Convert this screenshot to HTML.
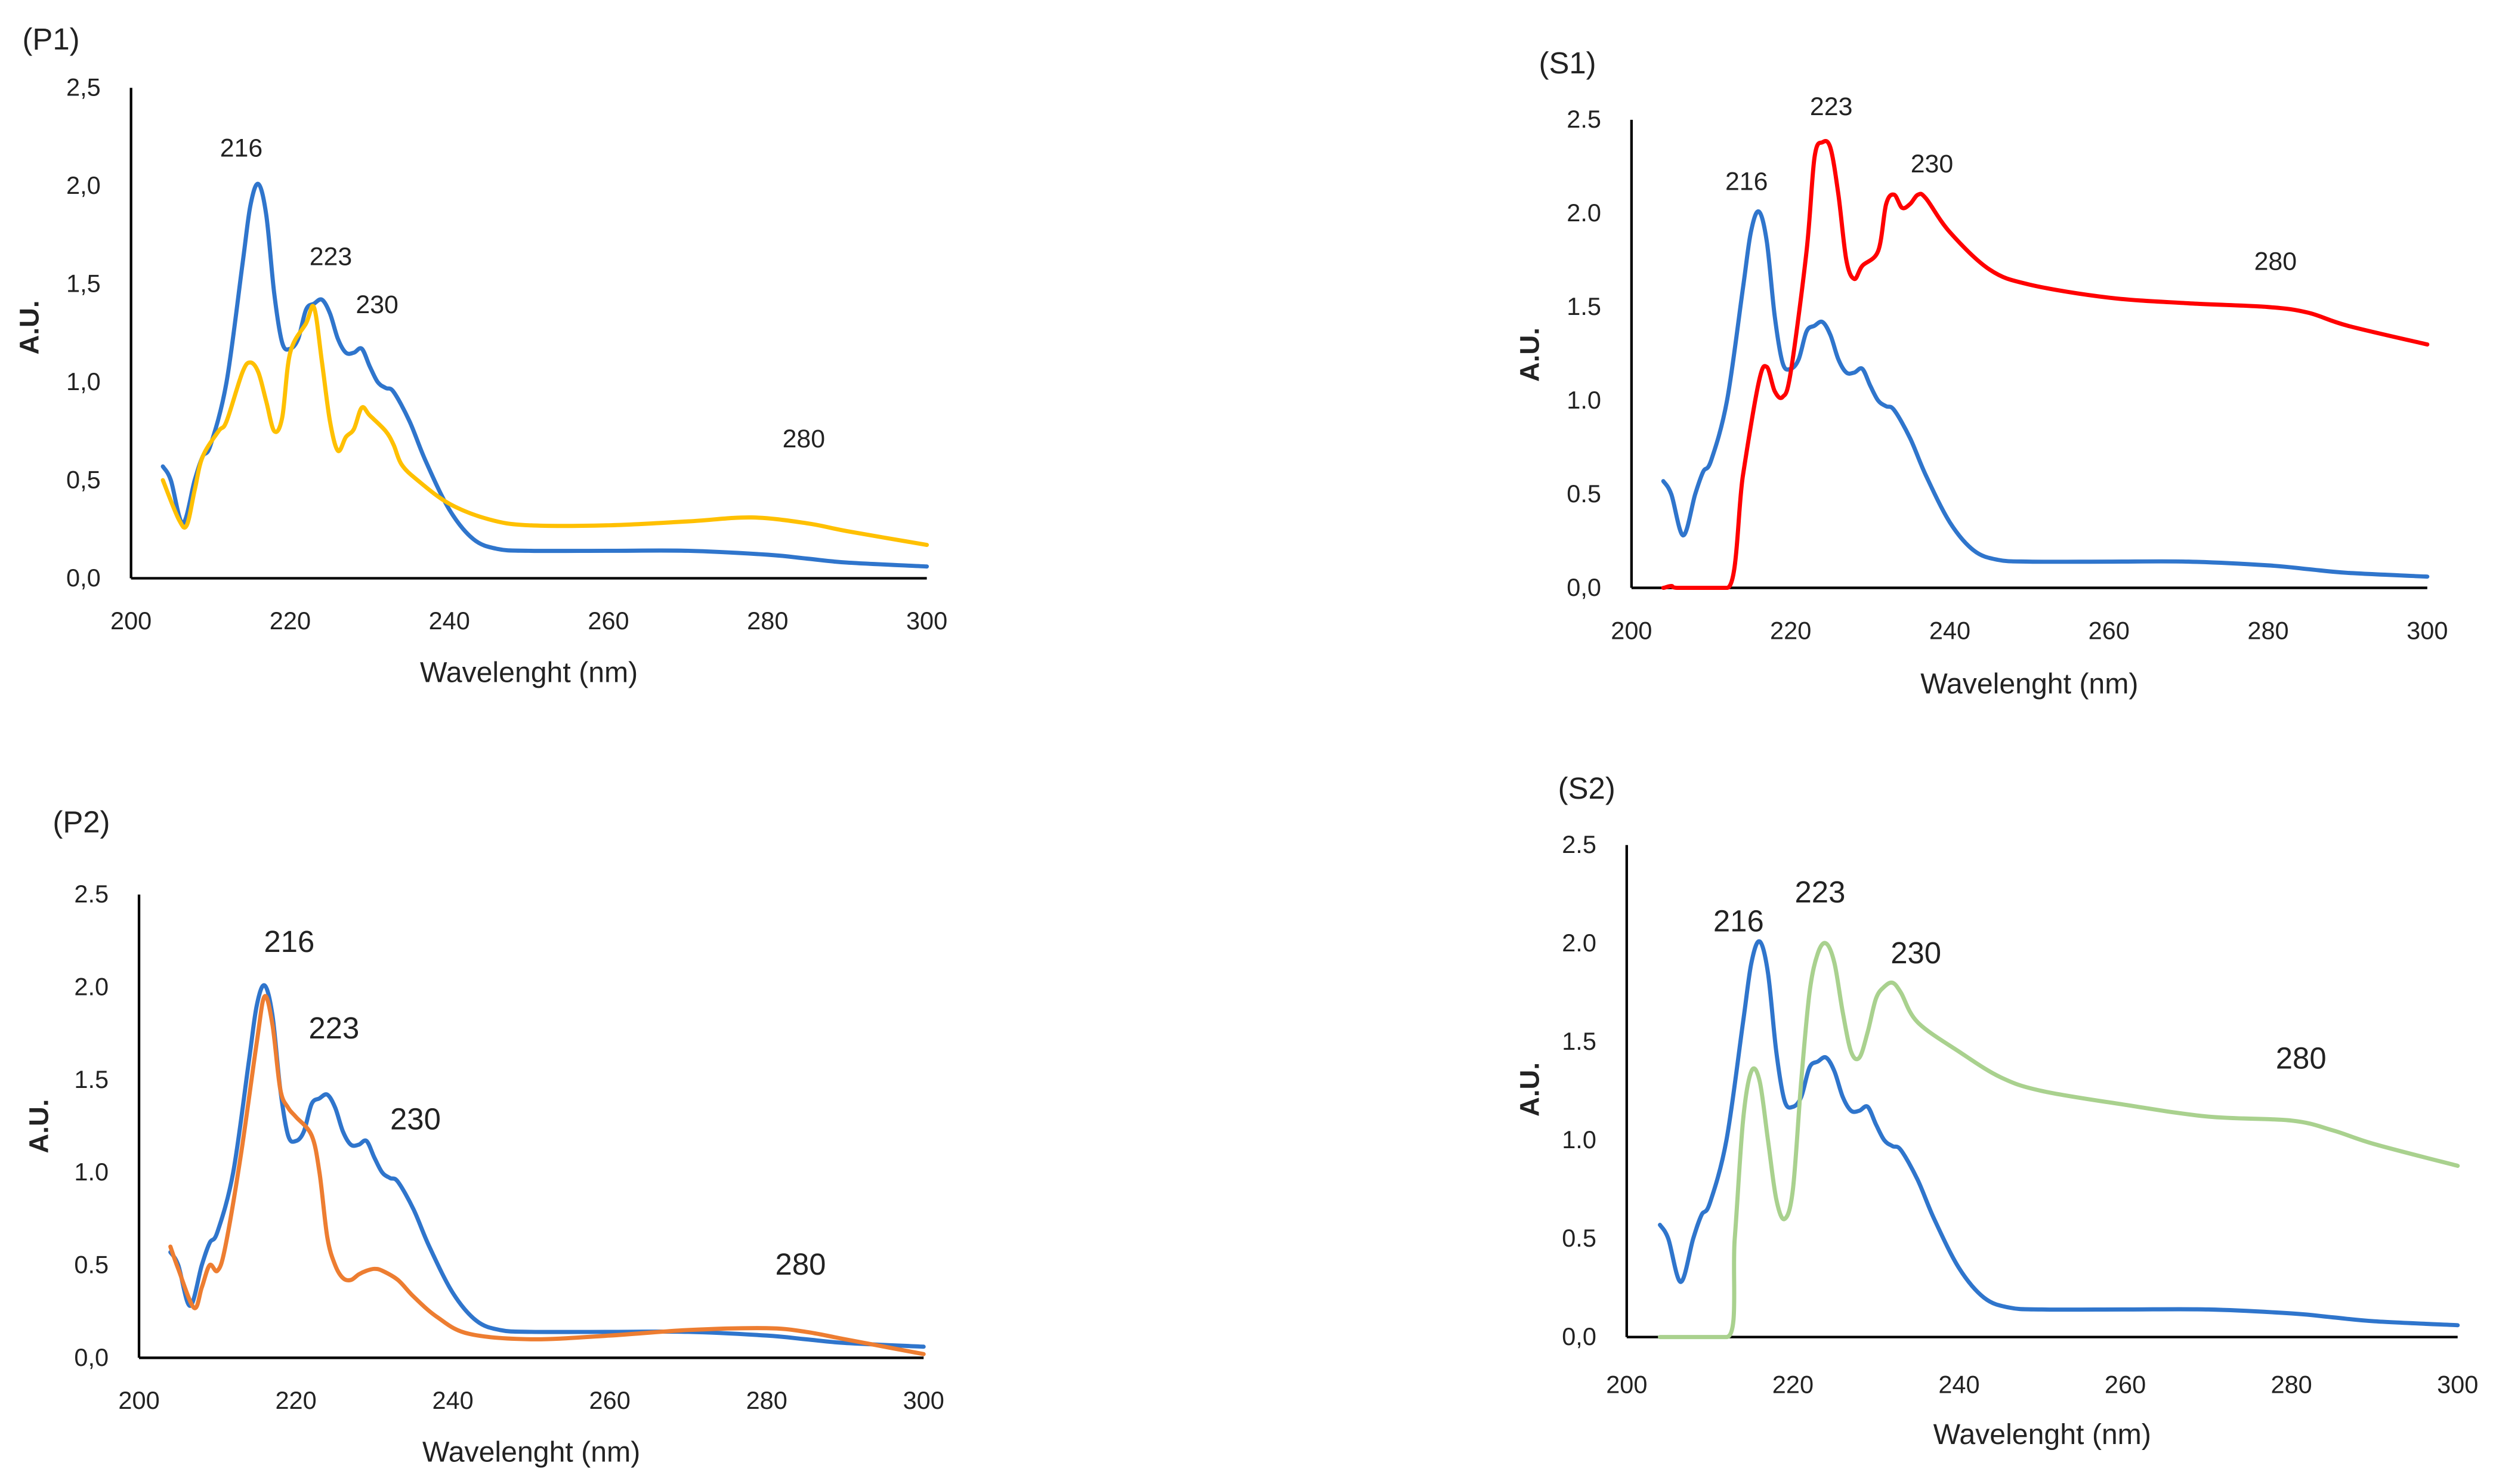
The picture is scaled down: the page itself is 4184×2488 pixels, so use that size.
<!DOCTYPE html>
<html><head><meta charset="utf-8">
<style>
html,body{margin:0;padding:0;background:#fff;}
svg{display:block;}
text{font-family:"Liberation Sans",sans-serif;fill:#222;}
</style></head>
<body>
<svg id="fig" width="4184" height="2488" viewBox="0 0 1562 929" preserveAspectRatio="none" xmlns="http://www.w3.org/2000/svg"></svg>
<script>
const xTicks=[200,220,240,260,280,300];
const yTicks=[0,0.5,1.0,1.5,2.0,2.5];
const yTickLabels=["0,0","0,5","1,0","1,5","2,0","2,5"];
const yTickLabelsS1=["0,0","0.5","1.0","1.5","2.0","2.5"];
const blueX=[204,205,206.5,208,209,210,212,214,215,216,217,218,219,220,221,222,223,224,225,226,227,228,229,230,231,232,233,235,237,240,243,246,250,260,270,280,285,290,300];
const blueY=[0.57,0.5,0.28,0.5,0.62,0.68,1.0,1.6,1.9,2.01,1.85,1.45,1.2,1.17,1.22,1.37,1.4,1.42,1.35,1.22,1.15,1.15,1.17,1.08,1.0,0.97,0.95,0.8,0.6,0.35,0.2,0.15,0.14,0.14,0.14,0.12,0.1,0.08,0.06];
const yellowX=[204,206,207,208,209,211,212,214,215,216,217,218,219,220,222,223,224,225,226,227,228,229,230,232,233,234,236,240,245,250,260,270,278,285,290,300];
const yellowY=[0.5,0.3,0.27,0.45,0.62,0.75,0.8,1.05,1.1,1.05,0.9,0.75,0.82,1.15,1.3,1.38,1.1,0.8,0.65,0.72,0.76,0.87,0.83,0.75,0.68,0.58,0.5,0.38,0.3,0.27,0.27,0.29,0.31,0.28,0.24,0.17];
const redX=[204,205,206,212,214,216,217,218,219,220,222,223,224,225,226,227,228,229,231,232,233,234,235,236,237,240,245,250,260,270,280,285,290,300];
const redY=[0,0.01,0,0,0.6,1.1,1.18,1.05,1.02,1.15,1.8,2.3,2.38,2.35,2.1,1.75,1.65,1.72,1.8,2.05,2.1,2.03,2.05,2.1,2.08,1.9,1.7,1.62,1.55,1.52,1.5,1.47,1.4,1.3];
const orangeX=[204,205,207,208,209,210,211,213,215,216,217,218,219,220,222,223,224,225,226,227,228,229,230,231,233,235,238,242,250,260,270,280,285,290,300];
const orangeY=[0.6,0.48,0.27,0.38,0.5,0.47,0.6,1.1,1.7,1.95,1.8,1.45,1.35,1.3,1.2,1.0,0.65,0.5,0.43,0.42,0.45,0.47,0.48,0.47,0.42,0.33,0.22,0.13,0.1,0.12,0.15,0.16,0.14,0.1,0.02];
const greenX=[204,212,213,214,215,216,217,218,219,220,221,222,223,224,225,226,227,228,229,230,231,232,233,235,240,245,250,260,270,280,285,290,300];
const greenY=[0,0,0.5,1.1,1.35,1.3,1.0,0.7,0.6,0.75,1.3,1.75,1.95,2.0,1.9,1.65,1.45,1.42,1.55,1.72,1.78,1.8,1.75,1.6,1.45,1.32,1.25,1.18,1.12,1.1,1.05,0.98,0.87];

const NS="http://www.w3.org/2000/svg";
const svg=document.getElementById('fig');
function el(tag,attrs,parent){const e=document.createElementNS(NS,tag);for(const k in attrs)e.setAttribute(k,attrs[k]);(parent||svg).appendChild(e);return e;}
function txt(s,x,y,size,parent,anchor,extra){const t=el('text',Object.assign({x:x,y:y,'font-size':size,'text-anchor':anchor||'middle'},extra||{}),parent);t.textContent=s;return t;}

function smoothPath(pts,base){
  const cl=v=>Math.min(v,base);
  let d='M'+pts[0][0].toFixed(2)+','+pts[0][1].toFixed(2);
  for(let i=0;i<pts.length-1;i++){
    const p0=pts[Math.max(0,i-1)],p1=pts[i],p2=pts[i+1],p3=pts[Math.min(pts.length-1,i+2)];
    let c1x=p1[0]+(p2[0]-p0[0])/6,c1y=p1[1]+(p2[1]-p0[1])/6;
    let c2x=p2[0]-(p3[0]-p1[0])/6,c2y=p2[1]-(p3[1]-p1[1])/6;
    if(p1[1]>=base-0.5||p2[1]>=base-0.5){ if(p1[1]>=base-0.5)c1y=p1[1]; if(p2[1]>=base-0.5)c2y=p2[1]; }
    d+=' C'+c1x.toFixed(2)+','+cl(c1y).toFixed(2)+' '+c2x.toFixed(2)+','+cl(c2y).toFixed(2)+' '+p2[0].toFixed(2)+','+p2[1].toFixed(2);
  }
  return d;
}

function panel(cfg){
  const g=el('g',{});
  
  
  const sx=v=>cfg.x0+(v-200)/100*(cfg.x1-cfg.x0);
  const sy=v=>cfg.y0-(v/2.5)*(cfg.y0-cfg.yTop);
  const lbl=txt(cfg.label,cfg.labX,cfg.labY,19,g,'start');
  
  
  const ya=el('line',{x1:cfg.x0,y1:cfg.yTop,x2:cfg.x0,y2:cfg.y0,stroke:'#000','stroke-width':1.6},g);
  
  
  const xa=el('line',{x1:cfg.x0,y1:cfg.y0,x2:cfg.x1,y2:cfg.y0,stroke:'#000','stroke-width':1.6},g);
  
  
  yTicks.forEach((v,i)=>{
    const t=txt(cfg.yLabels[i],cfg.x0-19,sy(v)+5,15.5,g,'end',{fill:'#555'});
    
    
  });
  xTicks.forEach(v=>{
    const t=txt(String(v),sx(v),cfg.tickY,15.5,g,'middle',{fill:'#555'});
    
    
  });
  const xt=txt('Wavelenght (nm)',(cfg.x0+cfg.x1)/2,cfg.titleY,18,g,'middle',{fill:'#333'});
  
  
  const yt=txt('A.U.',cfg.auX,cfg.auY,17,g,'middle',{'font-weight':'bold',transform:'rotate(-90 '+cfg.auX+' '+cfg.auY+')',fill:'#222'});
  
  
  cfg.series.forEach(s=>{
    const pts=s.xs.map((x,i)=>[sx(x),sy(s.ys[i])]);
    const p=el('path',{d:smoothPath(pts,cfg.y0),fill:'none',stroke:s.color,'stroke-width':2.6,'stroke-linejoin':'round','stroke-linecap':'round'},g);
    
    
  });
  cfg.peaks.forEach(pk=>{
    const t=txt(pk[0],pk[1],pk[2],cfg.peakSize,g,'middle');
    
    
  });
}

panel({name:'panel-p1',label:'(P1)',labX:14,labY:31,x0:82,x1:580,yTop:55,y0:362,tickY:394,titleY:427,auX:24,auY:205,yLabels:yTickLabels,peakSize:16,
  series:[{name:'series-reference-blue',xs:blueX,ys:blueY,color:'#2f75cc'},{name:'series-p1-yellow',xs:yellowX,ys:yellowY,color:'#ffc000'}],
  peaks:[['216',151,98],['223',207,166],['230',236,196],['280',503,280]]});
panel({name:'panel-s1',label:'(S1)',labX:963,labY:46,x0:1021,x1:1519,yTop:75,y0:368,tickY:400,titleY:434,auX:963,auY:222,yLabels:yTickLabelsS1,peakSize:16,
  series:[{name:'series-reference-blue',xs:blueX,ys:blueY,color:'#2f75cc'},{name:'series-s1-red',xs:redX,ys:redY,color:'#ff0000'}],
  peaks:[['216',1093,119],['223',1146,72],['230',1209,108],['280',1424,169]]});
panel({name:'panel-p2',label:'(P2)',labX:33,labY:521,x0:87,x1:578,yTop:560,y0:850,tickY:882,titleY:915,auX:30,auY:705,yLabels:yTickLabelsS1,peakSize:19,
  series:[{name:'series-reference-blue',xs:blueX,ys:blueY,color:'#2f75cc'},{name:'series-p2-orange',xs:orangeX,ys:orangeY,color:'#ed7d31'}],
  peaks:[['216',181,596],['223',209,650],['230',260,707],['280',501,798]]});
panel({name:'panel-s2',label:'(S2)',labX:975,labY:500,x0:1018,x1:1538,yTop:529,y0:837,tickY:872,titleY:904,auX:963,auY:682,yLabels:yTickLabelsS1,peakSize:19,
  series:[{name:'series-reference-blue',xs:blueX,ys:blueY,color:'#2f75cc'},{name:'series-s2-green',xs:greenX,ys:greenY,color:'#a9d18e'}],
  peaks:[['216',1088,583],['223',1139,565],['230',1199,603],['280',1440,669]]});
</script>
</body></html>
